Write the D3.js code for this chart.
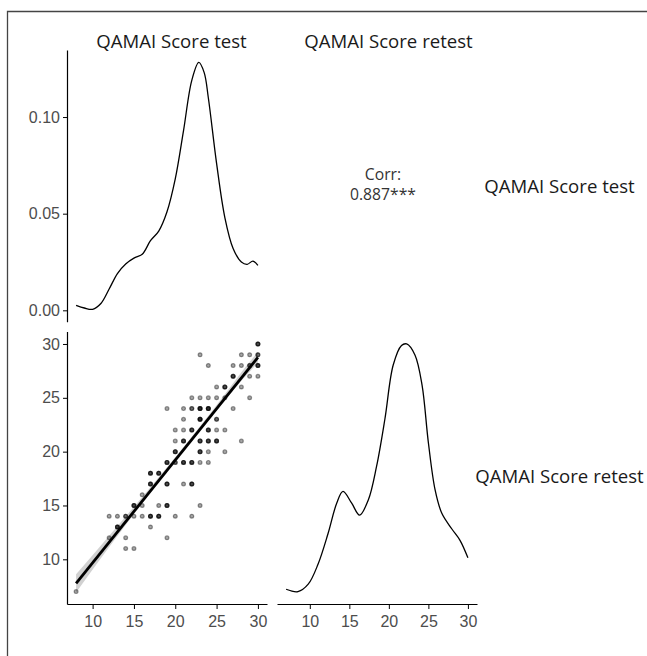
<!DOCTYPE html>
<html>
<head>
<meta charset="utf-8">
<script src="https://cdn.jsdelivr.net/npm/d3@7"></script>
<style>
  body { margin: 0; background: #fff; }
  svg { display: block; font-family: "Open Sans", sans-serif; }
  .tick text { fill: #4d4d4d; font-size: 16px; }
  .tick line, .domain { stroke: #000; }
</style>
</head>
<body>
<div id="chart"></div>
<script>
// Data
// =================================
var varNames = ["QAMAI Score test", "QAMAI Score retest"];

// scatter: test score, retest score, number of overlapping subjects
var scatterTest   = [8, 12,13,14,15,16,17,18,20,22, 13,17, 12,14,19, 14,15, 15,16,18,19,23, 16, 17,19,21,22, 17,18,
                     19,20,21,22,23,24, 20,23,24,26, 20,21,23,24,25,28, 20,21,22,24,25,26, 21,23,25,
                     19,21,22,23,24,27, 22,23,24,25,26,29, 25,26,28, 27,29,30, 24,27,28,29,30, 23,28,29,30, 30];
var scatterRetest = [7, 14,14,14,14,14,14,14,14,14, 13,13, 12,12,12, 11,11, 15,15,15,15,15, 16, 17,17,17,17, 18,18,
                     19,19,19,19,19,19, 20,20,20,20, 21,21,21,21,21,21, 22,22,22,22,22,22, 23,23,23,
                     24,24,24,24,24,24, 25,25,25,25,25,25, 26,26,26, 27,27,27, 28,28,28,28,28, 29,29,29,29, 30];
var scatterCount  = [1, 1,1,2,1,1,3,3,1,1, 3,1, 1,1,1, 1,1, 3,1,1,3,1, 1, 3,3,1,3, 3,3,
                     3,2,3,3,1,1, 3,3,1,1, 1,3,3,3,3,1, 1,1,3,3,1,1, 1,4,2,
                     1,1,2,4,4,1, 1,1,1,1,1,1, 1,3,1, 3,1,1, 1,1,1,2,3, 1,1,1,2, 3];

// linear fit and its confidence band
var fitX    = [8, 30];
var fitY    = [7.77, 28.76];
var bandX   = [8, 11, 14, 17, 20, 23, 26, 28, 30];
var bandLow = [6.92, 10.09, 13.18, 16.19, 19.11, 21.95, 24.74, 26.58, 28.26];
var bandHigh= [8.62, 11.29, 13.98, 16.69, 19.47, 22.35, 25.34, 27.38, 29.26];

// kernel density, test
var densTestX = [8, 9, 10, 11, 12, 13, 14, 15, 16, 17, 18, 19, 20, 21, 22, 22.85, 23.5, 24, 25, 26, 27, 28, 28.7, 29.4, 30];
var densTestY = [0.0026, 0.0012, 0.0005, 0.0035, 0.011, 0.019, 0.024, 0.027, 0.029, 0.036, 0.041, 0.051, 0.068, 0.093,
                 0.119, 0.1283, 0.123, 0.110, 0.076, 0.048, 0.032, 0.025, 0.0238, 0.0255, 0.0233];

// kernel density, retest
var densRetestX = [7, 8.5, 9.8, 11.05, 12.3, 13.4, 14.2, 15.3, 16.3, 17.4, 18.45, 19.5, 20.55, 21.6, 22.25, 23.3,
                   24.2, 25, 25.85, 26.7, 27.95, 29, 30];
var densRetestY = [0.0053, 0.0045, 0.0070, 0.0138, 0.0240, 0.0343, 0.0383, 0.0343, 0.0303, 0.0354, 0.0468, 0.0627,
                   0.0809, 0.0875, 0.0880, 0.0843, 0.0741, 0.0547, 0.0388, 0.0309, 0.0257, 0.0218, 0.0159];

var corrLabel = ["Corr:", "0.887***"];
var densTicks = [0, 0.05, 0.10];
var scoreTicks = [10, 15, 20, 25, 30];

// Set up the chart
//=================================
var svgWidth = 647, svgHeight = 656;
var cols = [{x0: 67, x1: 267}, {x0: 277, x1: 477}];
var rows = [{y0: 50, y1: 321.7}, {y0: 331.6, y1: 604}];
var colTitleX = [171.5, 388.5];
var rowTitleY = [192.5, 483];

var svg = d3.select("#chart").append("svg")
  .attr("width", svgWidth)
  .attr("height", svgHeight);

// outer frame (only top and left edges are inside the picture)
svg.append("path")
  .attr("d", "M7.5,656 L7.5,11.5 L647,11.5")
  .attr("fill", "none")
  .attr("stroke", "#444")
  .attr("stroke-width", 1.3);

// ggplot-style 5% padding
function padded(ext) {
  var p = (ext[1] - ext[0]) * 0.05;
  return [ext[0] - p, ext[1] + p];
}

var xTest = d3.scaleLinear().domain(padded(d3.extent(scatterTest))).range([cols[0].x0, cols[0].x1]);
var xRetest = d3.scaleLinear().domain(padded(d3.extent(scatterRetest))).range([cols[1].x0, cols[1].x1]);
var yRetest = d3.scaleLinear().domain(padded(d3.extent(scatterRetest))).range([rows[1].y1, rows[1].y0]);
var yDensTest = d3.scaleLinear().domain(padded(d3.extent(densTestY))).range([rows[0].y1, rows[0].y0]);
var yDensRetest = d3.scaleLinear().domain(padded(d3.extent(densRetestY))).range([rows[1].y1, rows[1].y0]);

// column strip titles
svg.selectAll(".colTitle").data(varNames).enter()
  .append("text")
  .attr("class", "colTitle")
  .attr("x", (d, i) => colTitleX[i])
  .attr("y", 47.5)
  .attr("text-anchor", "middle")
  .attr("font-size", "18.6px")
  .attr("fill", "#1a1a1a")
  .text(d => d);

// row strip titles
svg.selectAll(".rowTitle").data(varNames).enter()
  .append("text")
  .attr("class", "rowTitle")
  .attr("x", 559.5)
  .attr("y", (d, i) => rowTitleY[i])
  .attr("text-anchor", "middle")
  .attr("font-size", "18.6px")
  .attr("fill", "#1a1a1a")
  .text(d => d);

// top-left: density of test
var densTest = densTestX.map((x, i) => ({x: x, y: densTestY[i]}));
svg.append("path")
  .datum(densTest)
  .attr("fill", "none")
  .attr("stroke", "#000")
  .attr("stroke-width", 1.3)
  .attr("d", d3.line().x(d => xTest(d.x)).y(d => yDensTest(d.y)).curve(d3.curveCatmullRom.alpha(0.5)));

svg.append("g")
  .attr("transform", `translate(${cols[0].x0}, 0)`)
  .call(d3.axisLeft(yDensTest).tickValues(densTicks).tickFormat(d3.format(".2f")).tickSize(4).tickPadding(3).tickSizeOuter(0))
  .call(g => g.select(".domain").attr("stroke-width", 1.2));

// top-right: correlation
svg.selectAll(".corr").data(corrLabel).enter()
  .append("text")
  .attr("class", "corr")
  .attr("x", 383)
  .attr("y", (d, i) => 180 + i * 20)
  .attr("text-anchor", "middle")
  .attr("font-size", "15.7px")
  .attr("fill", "#333")
  .text(d => d);

// bottom-left: scatter with fit
var band = bandX.map((x, i) => ({x: x, lo: bandLow[i], hi: bandHigh[i]}));
svg.append("path")
  .datum(band)
  .attr("fill", "#999")
  .attr("fill-opacity", 0.45)
  .attr("d", d3.area().x(d => xTest(d.x)).y0(d => yRetest(d.lo)).y1(d => yRetest(d.hi)).curve(d3.curveMonotoneX));

var pts = [];
scatterTest.forEach(function(x, i) {
  for (var k = 0; k < scatterCount[i]; k++) pts.push({x: x, y: scatterRetest[i]});
});
svg.append("g").selectAll("circle").data(pts).enter()
  .append("circle")
  .attr("cx", d => xTest(d.x))
  .attr("cy", d => yRetest(d.y))
  .attr("r", 1.9)
  .attr("fill", "#000")
  .attr("fill-opacity", 0.35)
  .attr("stroke", "#000")
  .attr("stroke-opacity", 0.4)
  .attr("stroke-width", 1.2);

var fit = fitX.map((x, i) => ({x: x, y: fitY[i]}));
svg.append("path")
  .datum(fit)
  .attr("fill", "none")
  .attr("stroke", "#000")
  .attr("stroke-width", 2.8)
  .attr("d", d3.line().x(d => xTest(d.x)).y(d => yRetest(d.y)));

svg.append("g")
  .attr("transform", `translate(${cols[0].x0}, 0)`)
  .call(d3.axisLeft(yRetest).tickValues(scoreTicks).tickSize(4).tickPadding(3).tickSizeOuter(0))
  .call(g => g.select(".domain").attr("stroke-width", 1.2));

svg.append("g")
  .attr("transform", `translate(0, ${rows[1].y1})`)
  .call(d3.axisBottom(xTest).tickValues(scoreTicks).tickSize(5).tickPadding(7).tickSizeOuter(0))
  .call(g => g.select(".domain").attr("stroke-width", 1.2));

// bottom-right: density of retest
var densRetest = densRetestX.map((x, i) => ({x: x, y: densRetestY[i]}));
svg.append("path")
  .datum(densRetest)
  .attr("fill", "none")
  .attr("stroke", "#000")
  .attr("stroke-width", 1.3)
  .attr("d", d3.line().x(d => xRetest(d.x)).y(d => yDensRetest(d.y)).curve(d3.curveCatmullRom.alpha(0.5)));

svg.append("g")
  .attr("transform", `translate(0, ${rows[1].y1})`)
  .call(d3.axisBottom(xRetest).tickValues(scoreTicks).tickSize(5).tickPadding(7).tickSizeOuter(0))
  .call(g => g.select(".domain").attr("stroke-width", 1.2));
</script>
</body>
</html>
